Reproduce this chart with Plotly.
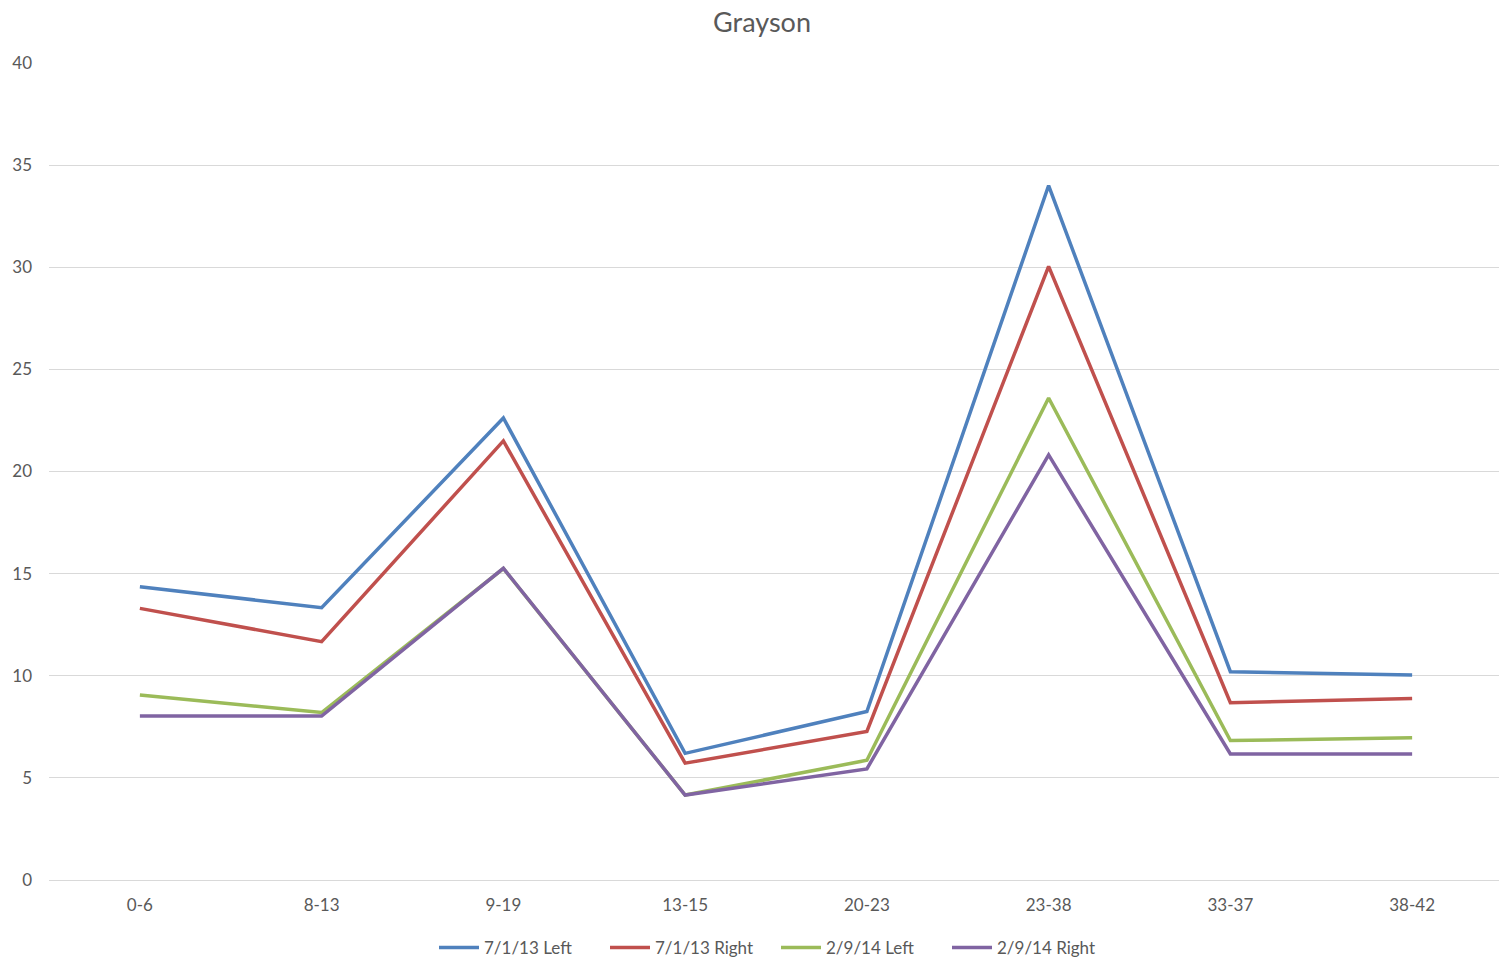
import plotly.graph_objects as go

categories = ["0-6", "8-13", "9-19", "13-15", "20-23", "23-38", "33-37", "38-42"]
left_2013 = [14.36, 13.33, 22.62, 6.2, 8.25, 34.0, 10.2, 10.04]
right_2013 = [13.3, 11.67, 21.5, 5.72, 7.27, 30.04, 8.68, 8.89]
left_2014 = [9.06, 8.2, 15.25, 4.16, 5.86, 23.6, 6.83, 6.96]
right_2014 = [8.03, 8.03, 15.26, 4.16, 5.44, 20.81, 6.17, 6.17]

series = [
    ("7/1/13 Left", left_2013, "#4F81BD"),
    ("7/1/13 Right", right_2013, "#C0504D"),
    ("2/9/14 Left", left_2014, "#9BBB59"),
    ("2/9/14 Right", right_2014, "#8064A2"),
]

fig = go.Figure()
for name, vals, color in series:
    fig.add_trace(go.Scatter(
        x=categories, y=vals, name=name, mode="lines",
        line=dict(color=color, width=3.5),
    ))

# the page body adds an 8px offset, so the figure is sized/positioned to compensate
W, H = 1499, 956
font_family = "Lato, 'Noto Sans', sans-serif"
fig.update_layout(
    width=W, height=H,
    margin=dict(l=41, r=4, t=55, b=84, autoexpand=False),
    paper_bgcolor="white", plot_bgcolor="white",
    font=dict(family=font_family, color="#595959", size=16),
    title=dict(text="Grayson", x=754/W, xanchor="center", y=1 - 5/H, yref="container",
               yanchor="top", pad=dict(t=0, b=0),
               font=dict(size=27, color="#595959", family=font_family)),
    showlegend=True,
    legend=dict(orientation="h", x=768/W, xref="container", xanchor="center",
                y=16/H, yref="container", yanchor="middle",
                font=dict(size=17, color="#595959"), itemwidth=40,
                entrywidth=116, entrywidthmode="pixels",
                traceorder="normal"),
    hovermode=False,
)
fig.update_xaxes(
    type="category", range=[-0.5, 7.5], showgrid=False, showline=False, zeroline=False,
    ticks="", tickfont=dict(size=17, color="#595959"), ticklabelstandoff=13,
    automargin=False,
)
fig.update_yaxes(
    range=[0, 40], dtick=5, showgrid=True, gridcolor="#D9D9D9", gridwidth=1,
    zeroline=True, zerolinecolor="#D9D9D9", zerolinewidth=1, showline=False,
    ticks="", tickfont=dict(size=17, color="#595959"), ticklabelstandoff=16,
    automargin=False,
)

fig.write_html("out.html")
